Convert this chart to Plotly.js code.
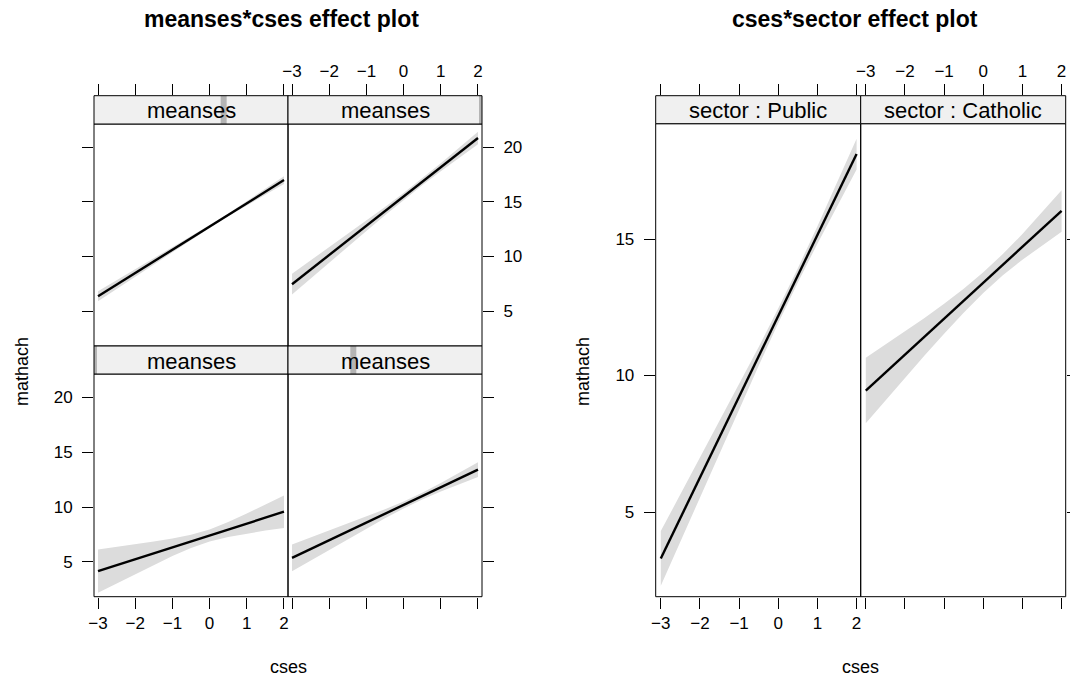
<!DOCTYPE html>
<html>
<head>
<meta charset="utf-8">
<script src="https://cdn.plot.ly/plotly-3.0.1.min.js"></script>
<style>
  html, body { margin: 0; padding: 0; background: #ffffff; }
  #chart { width: 1070px; height: 676px; }
</style>
</head>
<body>
<div id="chart"></div>
<script>
// ---- data -------------------------------------------------------------
const cses = [-3, -2.5, -2, -1.5, -1, -0.5, 0, 0.5, 1, 1.5, 2];
const csesTicks = [-3, -2, -1, 0, 1, 2];
const mathachTicksLeft = [5, 10, 15, 20];
const mathachTicksRight = [5, 10, 15];

// meanses*cses: four meanses levels (lattice order: bottom-left, bottom-right, top-left, top-right)
const meansesLevels = [-1.19, -0.51, 0.16, 0.83];
const fitM1 = [4.15, 4.69, 5.23, 5.78, 6.32, 6.86, 7.40, 7.94, 8.49, 9.03, 9.57];
const lowM1 = [2.18, 3.03, 3.88, 4.72, 5.52, 6.25, 6.85, 7.26, 7.58, 7.85, 8.09];
const uppM1 = [6.12, 6.35, 6.58, 6.84, 7.12, 7.47, 7.95, 8.62, 9.40, 10.21, 11.05];

const fitM2 = [5.36, 6.17, 6.97, 7.78, 8.58, 9.39, 10.19, 11.00, 11.80, 12.61, 13.41];
const lowM2 = [4.14, 5.12, 6.09, 7.07, 8.03, 8.98, 9.87, 10.69, 11.41, 12.09, 12.73];
const uppM2 = [6.58, 7.22, 7.85, 8.49, 9.13, 9.80, 10.51, 11.31, 12.19, 13.13, 14.09];

const fitM3 = [6.37, 7.43, 8.49, 9.55, 10.61, 11.67, 12.74, 13.80, 14.86, 15.92, 16.98];
const lowM3 = [5.92, 7.04, 8.16, 9.28, 10.40, 11.51, 12.61, 13.67, 14.68, 15.67, 16.63];
const uppM3 = [6.82, 7.82, 8.82, 9.82, 10.82, 11.83, 12.87, 13.93, 15.04, 16.17, 17.33];

const fitM4 = [7.47, 8.81, 10.14, 11.48, 12.81, 14.15, 15.48, 16.82, 18.15, 19.49, 20.82];
const lowM4 = [6.52, 7.99, 9.44, 10.90, 12.34, 13.77, 15.16, 16.51, 17.79, 19.03, 20.24];
const uppM4 = [8.42, 9.63, 10.84, 12.06, 13.28, 14.53, 15.80, 17.13, 18.51, 19.95, 21.40];

// cses*sector
const sectors = ['Public', 'Catholic'];
const fitPublic = [3.30, 4.78, 6.26, 7.74, 9.22, 10.70, 12.19, 13.67, 15.15, 16.63, 18.11];
const lowPublic = [2.30, 3.92, 5.54, 7.16, 8.76, 10.36, 11.92, 13.41, 14.83, 16.20, 17.55];
const uppPublic = [4.30, 5.64, 6.98, 8.32, 9.68, 11.04, 12.46, 13.93, 15.47, 17.06, 18.67];

const fitCatholic = [9.45, 10.11, 10.77, 11.42, 12.08, 12.74, 13.40, 14.06, 14.71, 15.37, 16.03];
const lowCatholic = [8.25, 9.09, 9.92, 10.73, 11.53, 12.30, 13.02, 13.67, 14.24, 14.77, 15.27];
const uppCatholic = [10.65, 11.13, 11.62, 12.11, 12.63, 13.18, 13.78, 14.45, 15.18, 15.97, 16.79];

// ---- geometry helpers -------------------------------------------------
const W = 1070, H = 676;
const px = x => x / W;
const py = y => 1 - y / H;
const BAND = '#dcdcdc';
const STRIP_BG = '#f0f0f0';
const STRIP_MARK = '#b4b4b4';
const FONT = '"Liberation Sans", Arial, Helvetica, sans-serif';
const TICK_SIZE = 17;
const STRIP_SIZE = 22;
const LAB_SIZE = 18;
const TITLE_SIZE = 23;

const layout = {
  width: W, height: H,
  margin: { l: 0, r: 0, t: 0, b: 0 },
  paper_bgcolor: '#ffffff',
  plot_bgcolor: 'rgba(0,0,0,0)',
  showlegend: false,
  font: { family: FONT, size: TICK_SIZE, color: '#000000' },
  shapes: [],
  annotations: []
};
const traces = [];
let n = 0;
const axKey = (l, i) => (i === 1 ? l + 'axis' : l + 'axis' + i);
const axRef = (l, i) => (i === 1 ? l : l + i);

function rect(x0, y0, x1, y1, fill, lineW) {
  layout.shapes.push({
    type: 'rect', xref: 'paper', yref: 'paper', layer: 'above',
    x0: px(x0), x1: px(x1), y0: py(y1), y1: py(y0),
    fillcolor: fill || 'rgba(0,0,0,0)',
    line: { color: '#000000', width: lineW === undefined ? 1 : lineW }
  });
}

function text(x, y, s, opts) {
  layout.annotations.push(Object.assign({
    xref: 'paper', yref: 'paper', x: px(x), y: py(y), text: s,
    showarrow: false, xanchor: 'center', yanchor: 'middle',
    font: { family: FONT, size: LAB_SIZE, color: '#000000' }
  }, opts || {}));
}

const tickCommon = {
  ticks: 'outside', ticklen: 11, tickwidth: 1, tickcolor: '#000000',
  showline: false, showgrid: false, zeroline: false, fixedrange: true,
  tickmode: 'array',
  tickfont: { family: FONT, size: TICK_SIZE, color: '#000000' }
};

// one effect panel: confidence band + fitted line, with its own tick sides
//   box: pixel box of the axes area (top may include the strip)
//   xs / ys: {side, labels, mirror}
function panel(box, xr, yr, low, upp, fit, xs, ys, yvals) {
  n++;
  const xa = axRef('x', n), ya = axRef('y', n);
  layout[axKey('x', n)] = Object.assign({}, tickCommon, {
    domain: [px(box.x0), px(box.x1)], range: xr, anchor: ya,
    side: xs.side, showticklabels: xs.labels, tickvals: csesTicks,
    mirror: xs.mirror ? 'ticks' : false
  });
  layout[axKey('y', n)] = Object.assign({}, tickCommon, {
    domain: [py(box.y1), py(box.y0)], range: yr, anchor: xa,
    side: ys.side, showticklabels: ys.labels, tickvals: yvals,
    mirror: false, ticklabelstandoff: 6
  });
  traces.push({ x: cses, y: low, xaxis: xa, yaxis: ya, mode: 'lines', line: { width: 0, color: BAND }, hoverinfo: 'skip' });
  traces.push({ x: cses, y: upp, xaxis: xa, yaxis: ya, mode: 'lines', line: { width: 0, color: BAND }, fill: 'tonexty', fillcolor: BAND, hoverinfo: 'skip' });
  traces.push({ x: cses, y: fit, xaxis: xa, yaxis: ya, mode: 'lines', line: { color: '#000000', width: 2.4 }, hoverinfo: 'skip' });
}

// y range for a pixel span, keeping a fixed value-to-pixel mapping
function yRange(topPx, botPx, refVal, refPx, pxPerUnit) {
  return [refVal - (botPx - refPx) / pxPerUnit, refVal + (refPx - topPx) / pxPerUnit];
}

// ---- meanses*cses effect plot ----------------------------------------
const L = { c0: 94, c1: 288, c2: 482, sTop: 95.7, r2Top: 124, mid: 346, r1Top: 374, bot: 596.7 };
const xrL = [-3.108, 2.108];
const kL = 10.95;                       // pixels per mathach unit
const yrTop = yRange(L.sTop, L.mid, 20, 147, kL);
const yrBot = yRange(L.r1Top, L.bot, 20, 397.5, kL);

panel({ x0: L.c0, x1: L.c1, y0: L.r1Top, y1: L.bot }, xrL, yrBot, lowM1, uppM1, fitM1,
      { side: 'bottom', labels: true }, { side: 'left', labels: true }, mathachTicksLeft);
panel({ x0: L.c1, x1: L.c2, y0: L.r1Top, y1: L.bot }, xrL, yrBot, lowM2, uppM2, fitM2,
      { side: 'bottom', labels: false }, { side: 'right', labels: false }, mathachTicksLeft);
panel({ x0: L.c0, x1: L.c1, y0: L.sTop, y1: L.mid }, xrL, yrTop, lowM3, uppM3, fitM3,
      { side: 'top', labels: false }, { side: 'left', labels: false }, mathachTicksLeft);
panel({ x0: L.c1, x1: L.c2, y0: L.sTop, y1: L.mid }, xrL, yrTop, lowM4, uppM4, fitM4,
      { side: 'top', labels: true }, { side: 'right', labels: true }, mathachTicksLeft);

// panel borders
rect(L.c0, L.r2Top, L.c1, L.mid);
rect(L.c1, L.r2Top, L.c2, L.mid);
rect(L.c0, L.r1Top, L.c1, L.bot);
rect(L.c1, L.r1Top, L.c2, L.bot);

// strips with the meanses level indicator
const mMin = Math.min(...meansesLevels), mMax = Math.max(...meansesLevels);
const stripBoxes = [
  { x0: L.c0, x1: L.c1, y0: L.mid, y1: L.r1Top },
  { x0: L.c1, x1: L.c2, y0: L.mid, y1: L.r1Top },
  { x0: L.c0, x1: L.c1, y0: L.sTop, y1: L.r2Top },
  { x0: L.c1, x1: L.c2, y0: L.sTop, y1: L.r2Top }
];
stripBoxes.forEach((b, i) => {
  rect(b.x0, b.y0, b.x1, b.y1, STRIP_BG, 0);
  const f = (meansesLevels[i] - mMin) / (mMax - mMin);
  const cx = b.x0 + f * (b.x1 - b.x0);
  const half = 3;
  layout.shapes.push({
    type: 'rect', xref: 'paper', yref: 'paper', layer: 'above',
    x0: px(Math.max(b.x0, cx - half)), x1: px(Math.min(b.x1, cx + half)),
    y0: py(b.y1), y1: py(b.y0), fillcolor: STRIP_MARK, line: { width: 0 }
  });
  text((b.x0 + b.x1) / 2, (b.y0 + b.y1) / 2 + 1, 'meanses', { font: { family: FONT, size: STRIP_SIZE, color: '#000000' } });
  rect(b.x0, b.y0, b.x1, b.y1);
});

text(281, 19, '<b>meanses*cses effect plot</b>', { font: { family: FONT, size: TITLE_SIZE, color: '#000000' } });
text(22, 372, 'mathach', { textangle: -90 });
text(288, 667, 'cses');

// ---- cses*sector effect plot -----------------------------------------
const R = { c0: 655.7, c1: 860.7, c2: 1065.7, sTop: 95.7, pTop: 123.7, bot: 596.7 };
const xrR = [-3.13, 2.105];
const kR = 27.3;
const yrR = yRange(R.sTop, R.bot, 15, 239, kR);

panel({ x0: R.c0, x1: R.c1, y0: R.sTop, y1: R.bot }, xrR, yrR, lowPublic, uppPublic, fitPublic,
      { side: 'bottom', labels: true, mirror: true }, { side: 'left', labels: true }, mathachTicksRight);
panel({ x0: R.c1, x1: R.c2, y0: R.sTop, y1: R.bot }, xrR, yrR, lowCatholic, uppCatholic, fitCatholic,
      { side: 'top', labels: true, mirror: true }, { side: 'right', labels: false }, mathachTicksRight);

rect(R.c0, R.pTop, R.c1, R.bot);
rect(R.c1, R.pTop, R.c2, R.bot);
[[R.c0, R.c1], [R.c1, R.c2]].forEach((c, i) => {
  rect(c[0], R.sTop, c[1], R.pTop, STRIP_BG, 1);
  text((c[0] + c[1]) / 2, (R.sTop + R.pTop) / 2 + 1, 'sector : ' + sectors[i], { font: { family: FONT, size: STRIP_SIZE, color: '#000000' } });
});

text(855, 19, '<b>cses*sector effect plot</b>', { font: { family: FONT, size: TITLE_SIZE, color: '#000000' } });
text(583, 372, 'mathach', { textangle: -90 });
text(860, 667, 'cses');

Plotly.newPlot('chart', traces, layout, { staticPlot: true, displayModeBar: false });
</script>
</body>
</html>
